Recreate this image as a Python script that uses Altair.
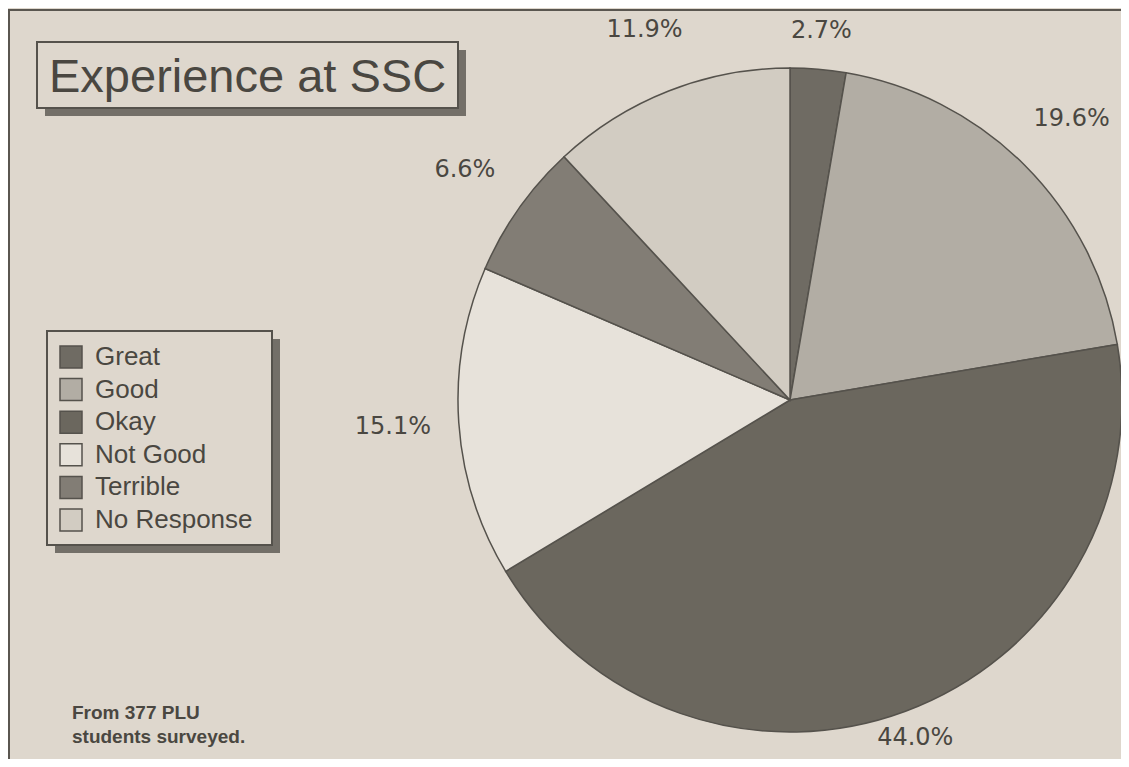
import altair as alt
import pandas as pd

categories = ["Great", "Good", "Okay", "Not Good", "Terrible", "No Response"]
percents = [2.7, 19.6, 44.0, 15.1, 6.6, 11.9]
fills = ["#6f6b63", "#b2ada4", "#6b675e", "#e7e2da", "#827d75", "#d2ccc2"]
title_text = "Experience at SSC"
note_lines = ["From 377 PLU", "students surveyed."]

INK = "#4a4741"
PAPER = "#ded7cd"
W, H = 1113, 751
CX, CY, R = 782, 392, 332
# label distance from the centre, per group of slices
LABEL_GROUPS = [(370, ["Great"]), (360, ["Okay"]), (398, ["Good", "Not Good", "Terrible", "No Response"])]

df = pd.DataFrame({
    "cat": categories,
    "pct": percents,
    "ord": list(range(len(categories))),
    "label": [f"{p:.1f}%" for p in percents],
})

color = alt.Color("cat:N", scale=alt.Scale(domain=categories, range=fills), legend=None)
theta = alt.Theta("pct:Q", stack=True)
order = alt.Order("ord:Q", sort="ascending")

base = alt.Chart(df)

pie = base.mark_arc(outerRadius=R, stroke="#55524c", strokeWidth=1.5).encode(
    theta=theta, color=color, order=order,
    x=alt.value(CX), y=alt.value(CY),
)

label_layers = []
for rad, cats in LABEL_GROUPS:
    label_layers.append(
        base.mark_text(radius=rad, font="DejaVu Sans", fontSize=24, color=INK).encode(
            theta=theta, order=order, text="label:N",
            opacity=alt.condition(alt.FieldOneOfPredicate(field="cat", oneOf=cats),
                                  alt.value(1), alt.value(0)),
            x=alt.value(CX), y=alt.value(CY),
        )
    )

one = alt.Chart(pd.DataFrame({"k": [0]}))

frame_left = one.mark_rule(color="#5a5650", strokeWidth=2).encode(
    x=alt.value(1), y=alt.value(2), y2=alt.value(H))
frame_top = one.mark_rule(color="#5a5650", strokeWidth=2).encode(
    x=alt.value(0), x2=alt.value(W), y=alt.value(2))

title_shadow = one.mark_rect(color="#736f68").encode(
    x=alt.value(37), x2=alt.value(458), y=alt.value(42), y2=alt.value(108))
title_box = one.mark_rect(fill=PAPER, stroke="#55524c", strokeWidth=2).encode(
    x=alt.value(29), x2=alt.value(450), y=alt.value(34), y2=alt.value(100))
title = one.mark_text(align="left", baseline="alphabetic", font="Liberation Sans",
                      fontSize=47, color=INK, text=title_text).encode(
    x=alt.value(41), y=alt.value(84))

leg_shadow = one.mark_rect(color="#736f68").encode(
    x=alt.value(47), x2=alt.value(272), y=alt.value(331), y2=alt.value(545))
leg_box = one.mark_rect(fill=PAPER, stroke="#55524c", strokeWidth=2).encode(
    x=alt.value(39), x2=alt.value(264), y=alt.value(323), y2=alt.value(537))

leg_y = alt.Y("cat:N", scale=alt.Scale(type="point", domain=categories, range=[349, 512], padding=0),
              axis=None)
leg_sw = base.mark_square(size=484, opacity=1, stroke="#55524c", strokeWidth=1.5).encode(
    x=alt.value(63), y=leg_y, color=color)
leg_txt = base.mark_text(align="left", baseline="middle", font="Liberation Sans",
                         fontSize=26, color=INK).encode(
    x=alt.value(87), y=leg_y, text="cat:N")

note_df = pd.DataFrame({"line": note_lines, "i": [0, 1]})
note = alt.Chart(note_df).mark_text(align="left", baseline="alphabetic", font="Liberation Sans",
                                     fontWeight="bold", fontSize=19, color=INK).encode(
    x=alt.value(64),
    y=alt.Y("i:O", scale=alt.Scale(type="point", domain=[0, 1], range=[711, 735], padding=0),
            axis=None),
    text="line:N",
)

chart = alt.layer(
    frame_left, frame_top, title_shadow, title_box, title,
    leg_shadow, leg_box, leg_sw, leg_txt, note, pie, *label_layers,
).resolve_scale(y="independent").properties(
    width=W, height=H, background=PAPER, padding=0,
    autosize=alt.AutoSizeParams(type="none"),
).configure_view(stroke=None)

chart.save("out.html", embed_options={"renderer": "svg", "actions": False})
